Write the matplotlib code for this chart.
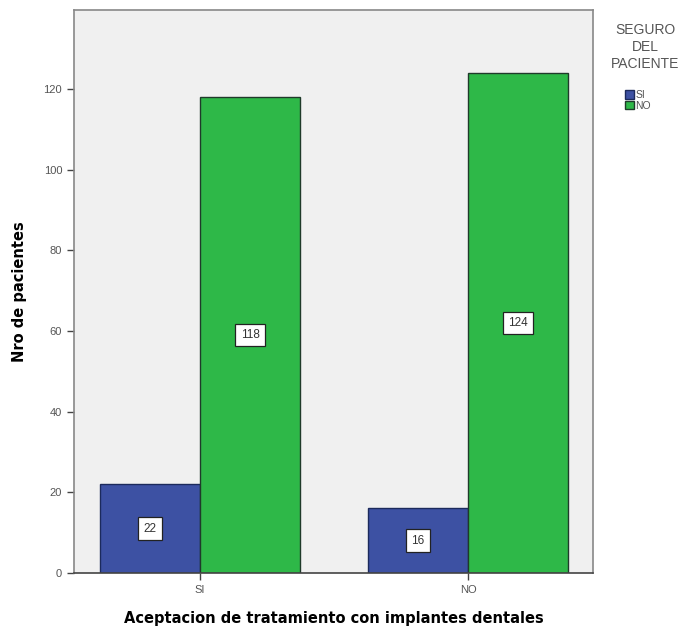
import matplotlib
matplotlib.use("Agg")
import matplotlib.pyplot as plt
import numpy as np

categories = ["SI", "NO"]
series_names = ["SI", "NO"]
si_values = [22, 16]
no_values = [118, 124]
yticks = [0, 20, 40, 60, 80, 100, 120]

colors = ["#3d51a3", "#2eb848"]

fig = plt.figure(figsize=(6.86, 6.33), dpi=100)
ax = fig.add_axes([74/686, 1-573/633, (593-74)/686, (573-10)/633])
ax.set_facecolor("#f0f0f0")

x = np.arange(len(categories))
w = 0.373
for i, (vals, c, name) in enumerate(zip([si_values, no_values], colors, series_names)):
    offs = -w/2 if i == 0 else w/2
    bars = ax.bar(x + offs, vals, width=w, color=c, edgecolor="#1f3a2a" if i else "#1c2a5c",
                  linewidth=1.0, label=name)
    for b, v in zip(bars, vals):
        ax.text(b.get_x() + b.get_width()/2, v/2, str(v), ha="center", va="center",
                fontsize=8.5, color="#333333", family="Liberation Sans",
                bbox=dict(boxstyle="square,pad=0.45", fc="white", ec="#222222", lw=0.9))

ax.set_xlim(-0.47, 1.466)
ax.set_ylim(0, 139.6)
ax.set_xticks(x)
ax.set_xticklabels(categories, fontsize=8, color="#555555", family="Liberation Sans")
ax.set_yticks(yticks)
ax.set_yticklabels([str(t) for t in yticks], fontsize=8, color="#555555", family="Liberation Sans")
ax.tick_params(axis="both", direction="out", length=5, width=1, color="#444444")
for s in ax.spines.values():
    s.set_color("#888888")
    s.set_linewidth(1.2)
ax.spines["bottom"].set_color("#444444")

ax.set_ylabel("Nro de pacientes", fontsize=10.5, fontweight="bold", labelpad=12)
ax.set_xlabel("Aceptacion de tratamiento con implantes dentales", fontsize=10.5,
              fontweight="bold", labelpad=12)

fig.text(645/686, 1-23/633, "SEGURO\nDEL\nPACIENTE", ha="center", va="top", fontsize=10,
         color="#555555", family="Liberation Sans", linespacing=1.25)
leg = fig.legend(loc="upper left", bbox_to_anchor=(620/686, 1-85/633), frameon=False,
                 handlelength=0.8, handleheight=0.9, handletextpad=0.2,
                 labelspacing=0.05, borderpad=0, prop={"family": "Liberation Sans", "size": 7.5})
for t in leg.get_texts():
    t.set_color("#555555")

fig.savefig("out.png", dpi=100)
